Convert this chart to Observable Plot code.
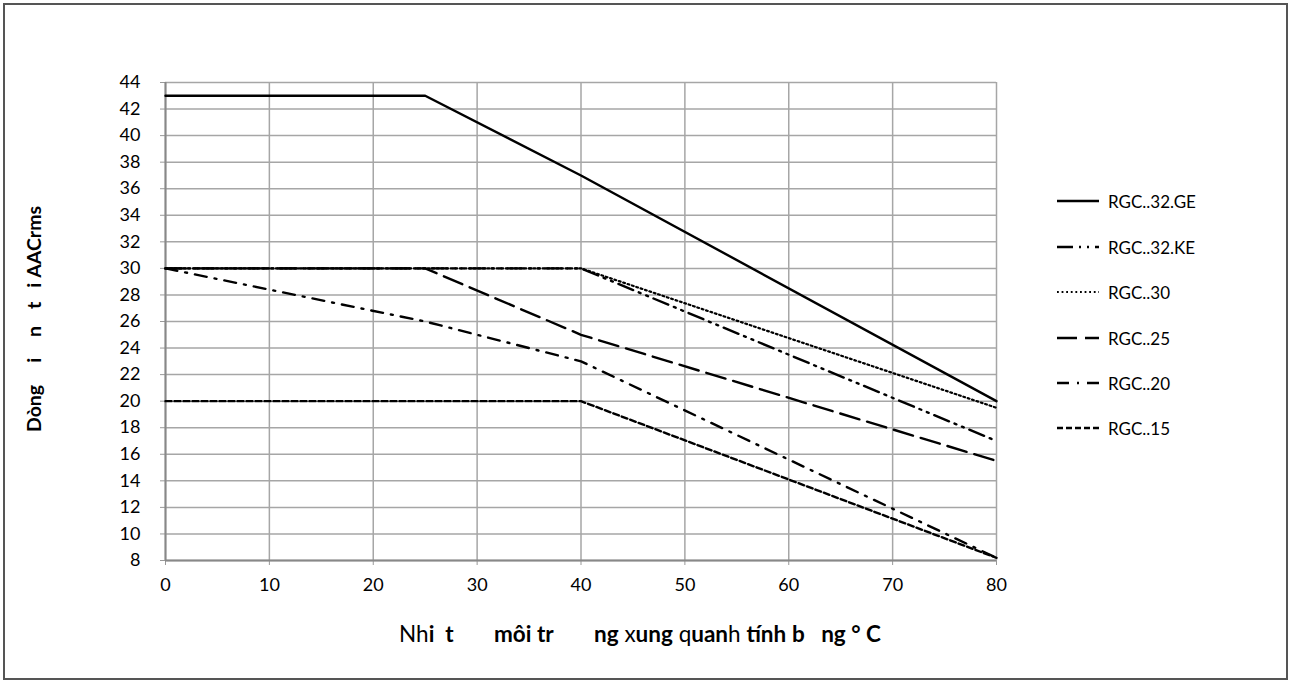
<!DOCTYPE html>
<html>
<head>
<meta charset="utf-8">
<script src="https://cdn.jsdelivr.net/npm/d3@7"></script>
<script src="https://cdn.jsdelivr.net/npm/@observablehq/plot@0.6"></script>
<style>
  html, body { margin: 0; padding: 0; background: #fff; }
  body { width: 1290px; height: 685px; position: relative; overflow: hidden; font-family: Lato, "Liberation Sans", sans-serif; }
  #frame { position: absolute; left: 3px; top: 3px; width: 1285px; height: 677px; border: 2px solid #555; box-sizing: border-box; }
  #chart { position: absolute; left: 0; top: 0; }
  #ytitle { position: absolute; left: 33px; top: 319px; transform: translate(-50%, -50%) rotate(-90deg); font-weight: bold; font-size: 19.5px; white-space: pre; color: #000; }
  #ytitle span { display: inline-block; }
  #xtitle { position: absolute; left: 640px; top: 633px; transform: translate(-50%, -50%); font-size: 22.5px; white-space: pre; color: #000; }
  #xtitle b { font-weight: bold; }
  .leg { position: absolute; left: 1056px; height: 22px; display: flex; align-items: center; font-size: 17px; color: #000; transform: translateY(-50%); }
  .leg svg { margin-right: 8px; }
</style>
</head>
<body>
<div id="frame"></div>
<div id="chart"></div>
<div id="ytitle"><span>Dòng</span><span style="margin-left:22px">i</span><span style="margin-left:21px">n</span><span style="margin-left:17px">t</span><span style="margin-left:14px">i</span><span style="margin-left:5px">AACrms</span></div>
<div id="xtitle">Nh<b>i  t</b>       <b>môi tr</b>       <b>ng</b> x<b>ung</b> q<b>uan</b>h <b>tính</b> <b>b   ng ° C</b></div>
<div id="legend"></div>
<script>
// ---- data ----
const seriesNames = ["RGC..32.GE", "RGC..32.KE", "RGC..30", "RGC..25", "RGC..20", "RGC..15"];
const temp32GE = [0, 25, 40, 80];
const amp32GE  = [43, 43, 37, 20];
const temp32KE = [0, 40, 80];
const amp32KE  = [30, 30, 17];
const temp30   = [0, 40, 80];
const amp30    = [30, 30, 19.5];
const temp25   = [0, 25, 40, 80];
const amp25    = [30, 30, 25, 15.5];
const temp20   = [0, 25, 40, 80];
const amp20    = [30, 26, 23, 8.2];
const temp15   = [0, 40, 80];
const amp15    = [20, 20, 8.2];
const xTickValues = [0, 10, 20, 30, 40, 50, 60, 70, 80];
const yTickValues = [8, 10, 12, 14, 16, 18, 20, 22, 24, 26, 28, 30, 32, 34, 36, 38, 40, 42, 44];

// ---- styles ----
const dashStyles = ["none", "16,6,2,6,2,6", "1.8,2.8", "20,8", "12,8,2,8", "6,3"];
const widths = [2.4, 2.4, 2.2, 2.4, 2.4, 2.4];

const temps = [temp32GE, temp32KE, temp30, temp25, temp20, temp15];
const amps = [amp32GE, amp32KE, amp30, amp25, amp20, amp15];
const rows = seriesNames.map((name, i) => temps[i].map((t, j) => ({series: name, t, a: amps[i][j]})));

const lineMarks = rows.map((r, i) => Plot.line(r, {
  x: "t", y: "a", stroke: "#000", strokeWidth: widths[i],
  strokeDasharray: dashStyles[i] === "none" ? null : dashStyles[i]
}));

const chart = Plot.plot({
  width: 1290, height: 680,
  marginLeft: 165, marginRight: 294, marginTop: 82, marginBottom: 120,
  style: {fontFamily: "Lato, 'Liberation Sans', sans-serif", fontSize: "18px", background: "transparent", color: "#000"},
  x: {domain: [0, 80]},
  y: {domain: [8, 44]},
  marks: [
    Plot.gridX(xTickValues, {stroke: "#a6a6a6", strokeOpacity: 1, strokeWidth: 1.5}),
    Plot.gridY(yTickValues, {stroke: "#a6a6a6", strokeOpacity: 1, strokeWidth: 1.5}),
    Plot.axisY(yTickValues, {tickSize: 5, stroke: "#999", label: null, tickFormat: () => ""}),
    Plot.axisX(xTickValues, {tickSize: 5, stroke: "#999", label: null, tickFormat: () => ""}),
    Plot.text(yTickValues, {y: d => d, frameAnchor: "left", dx: -25, textAnchor: "end", fontSize: 18, fill: "#000", text: d => String(d)}),
    Plot.text(xTickValues, {x: d => d, frameAnchor: "bottom", dy: 30, fontSize: 18, fill: "#000", text: d => String(d)}),
    Plot.ruleX([0], {stroke: "#888", strokeWidth: 2}),
    Plot.ruleY([8], {stroke: "#888", strokeWidth: 2}),
    ...lineMarks
  ]
});
document.getElementById("chart").appendChild(chart);

// ---- legend ----
const legend = document.getElementById("legend");
const legendTops = [201, 247, 292, 338, 383, 428];
seriesNames.forEach((name, i) => {
  const div = document.createElement("div");
  div.className = "leg";
  div.style.top = legendTops[i] + "px";
  const ns = "http://www.w3.org/2000/svg";
  const svg = document.createElementNS(ns, "svg");
  svg.setAttribute("width", 44); svg.setAttribute("height", 10);
  const ln = document.createElementNS(ns, "line");
  ln.setAttribute("x1", 1); ln.setAttribute("x2", 43); ln.setAttribute("y1", 5); ln.setAttribute("y2", 5);
  ln.setAttribute("stroke", "#000"); ln.setAttribute("stroke-width", widths[i]);
  if (dashStyles[i] !== "none") ln.setAttribute("stroke-dasharray", dashStyles[i]);
  svg.appendChild(ln);
  div.appendChild(svg);
  const sp = document.createElement("span");
  sp.textContent = name;
  div.appendChild(sp);
  legend.appendChild(div);
});
</script>
</body>
</html>
